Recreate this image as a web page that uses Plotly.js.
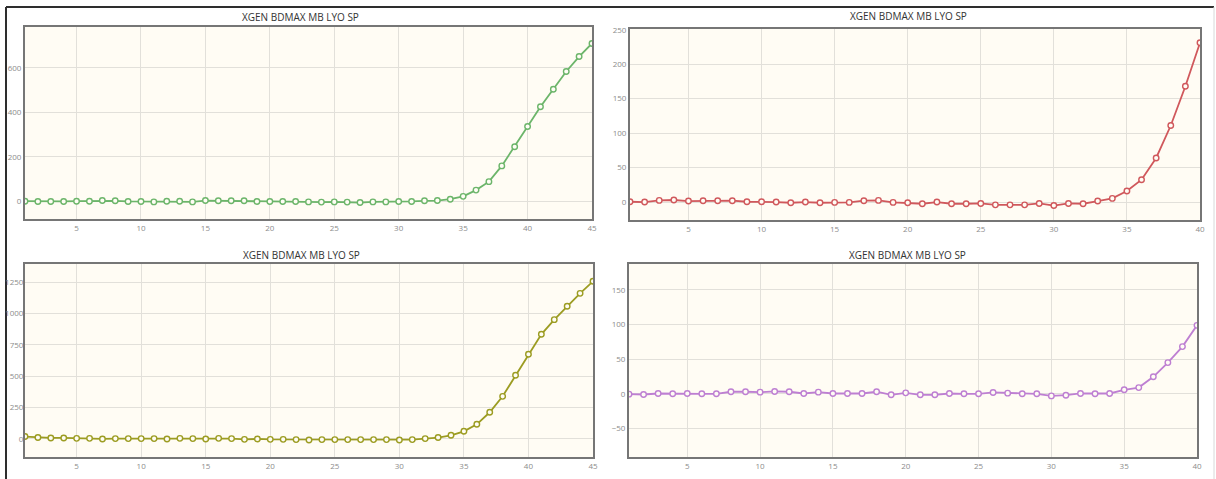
<!DOCTYPE html>
<html>
<head>
<meta charset="utf-8">
<script src="https://cdn.plot.ly/plotly-3.0.1.min.js"></script>
<style>html,body{margin:0;padding:0;background:#fff;}#chart{width:1216px;height:479px;}</style>
</head>
<body>
<div id="chart"></div>
<script>
const chartTitle = "XGEN BDMAX MB LYO SP";

const cycles45 = Array.from({length: 45}, (_, i) => i + 1);
const cycles40 = Array.from({length: 40}, (_, i) => i + 1);

const greenValues = [0, -1, -1, -1, 0, 0, 3, 2, -1, -1, -3, 0, 0, -3, 3, 2, 2, 2, -1, -1,
  -1, -1, -3, -4, -3, -4, -6, -3, -3, -1, -1, 2, 3, 9, 22, 50, 88, 159, 245, 336,
  425, 504, 584, 651, 710];

const redValues = [0.5, 0, 2.4, 3, 1.5, 2, 2, 2, 0.5, 0.5, 0, -1, 0, -1, -0.5, -0.5, 2, 2.4, -0.5, -1,
  -2.4, 0, -2.4, -2.4, -2, -4, -4, -4, -2, -5, -2, -2.4, 1.5, 5.3, 16, 32.4, 64, 111, 168, 231];

const oliveValues = [19, 11, 8, 8, 5, 5, 0, 3, 3, 3, 3, 0, 5, 3, 0, 5, 3, -3, 0, -3,
  -3, -5, -8, -5, -5, -5, -5, -5, -5, -8, -5, 3, 11, 29, 61, 117, 213, 340, 508, 676,
  835, 952, 1059, 1162, 1258];

const purpleValues = [-0.5, -1, 0.5, 0, 0.5, 0, 0, 3, 3, 2.4, 3.4, 3, 0.5, 2.4, 0.5, 0.5, 0.5, 3, -1.4, 1.4,
  -1.4, -1.4, 0.5, 0, 0, 2, 1, 0, 0, -3, -2, 0.5, 0, 0.5, 5.8, 9, 24.5, 45, 68, 98.6];

const W = 1216, H = 479;
const px = v => v / W;
const py = v => 1 - v / H;

function trace(x, y, color, xa, ya) {
  return {
    x: x, y: y, xaxis: xa, yaxis: ya, type: 'scatter', mode: 'lines+markers',
    line: {color: color, width: 1.8},
    marker: {symbol: 'circle', size: 5.5, color: '#fffdf5', line: {color: color, width: 1.4}},
    hoverinfo: 'x+y', showlegend: false
  };
}

const data = [
  trace(cycles45, greenValues, '#6cb56a', 'x', 'y'),
  trace(cycles40, redValues, '#d0585c', 'x2', 'y2'),
  trace(cycles45, oliveValues, '#9c9c22', 'x3', 'y3'),
  trace(cycles40, purpleValues, '#be7fd2', 'x4', 'y4')
];

const tickFont = {family: 'Open Sans, sans-serif', size: 8, color: '#8c8c8c'};

function xaxis(domain, maxX, anchor) {
  return {
    domain: domain, anchor: anchor, range: [1, maxX], tickvals: [5,10,15,20,25,30,35,40,45].filter(v => v <= maxX),
    showgrid: true, gridcolor: '#e2e0da', gridwidth: 1, zeroline: false,
    showline: true, mirror: true, linecolor: '#767676', linewidth: 2,
    ticks: '', tickfont: tickFont, fixedrange: true
  };
}
function yaxis(domain, range, dtick, anchor, standoff) {
  return {
    domain: domain, anchor: anchor, range: range, tick0: 0, dtick: dtick,
    showgrid: true, gridcolor: '#e2e0da', gridwidth: 1, zeroline: false,
    showline: true, mirror: true, linecolor: '#767676', linewidth: 2,
    ticks: '', tickfont: tickFont, fixedrange: true, ticklabelstandoff: standoff
  };
}

function titleAnn(x, y) {
  return {text: chartTitle, xref: 'paper', yref: 'paper', x: px(x), y: py(y),
    xanchor: 'center', yanchor: 'middle', showarrow: false,
    font: {family: 'Open Sans, sans-serif', size: 10, color: '#333333'}};
}

const layout = {
  width: W, height: H, margin: {l: 0, r: 0, t: 0, b: 0},
  paper_bgcolor: '#ffffff', plot_bgcolor: '#fffcf4',
  xaxis: xaxis([px(25), px(592)], 45, 'y'),
  yaxis: yaxis([py(219), py(27)], [-80, 784], 200, 'x', 0),
  xaxis2: xaxis([px(630), px(1200)], 40, 'y2'),
  yaxis2: yaxis([py(220), py(29)], [-26, 251], 50, 'x2', 0),
  xaxis3: xaxis([px(25), px(593)], 45, 'y3'),
  yaxis3: yaxis([py(457), py(264)], [-144, 1396], 250, 'x3', -2),
  xaxis4: xaxis([px(629), px(1197)], 40, 'y4'),
  yaxis4: yaxis([py(457), py(264)], [-91, 187], 50, 'x4', 0),
  annotations: [titleAnn(300, 17), titleAnn(908, 16), titleAnn(301, 255), titleAnn(907, 255)],
  shapes: [
    {type: 'line', layer: 'below', xref: 'paper', yref: 'paper', x0: px(6), x1: px(1214), y0: py(7), y1: py(7), line: {color: '#2e2e2e', width: 2}},
    {type: 'line', layer: 'below', xref: 'paper', yref: 'paper', x0: px(6), x1: px(6), y0: py(7), y1: 0, line: {color: '#2e2e2e', width: 2}},
    {type: 'line', layer: 'below', xref: 'paper', yref: 'paper', x0: px(1214), x1: px(1214), y0: py(7), y1: 0, line: {color: '#d8d8d8', width: 1}}
  ]
};

Plotly.newPlot('chart', data, layout, {displayModeBar: false, staticPlot: true});
</script>
</body>
</html>
